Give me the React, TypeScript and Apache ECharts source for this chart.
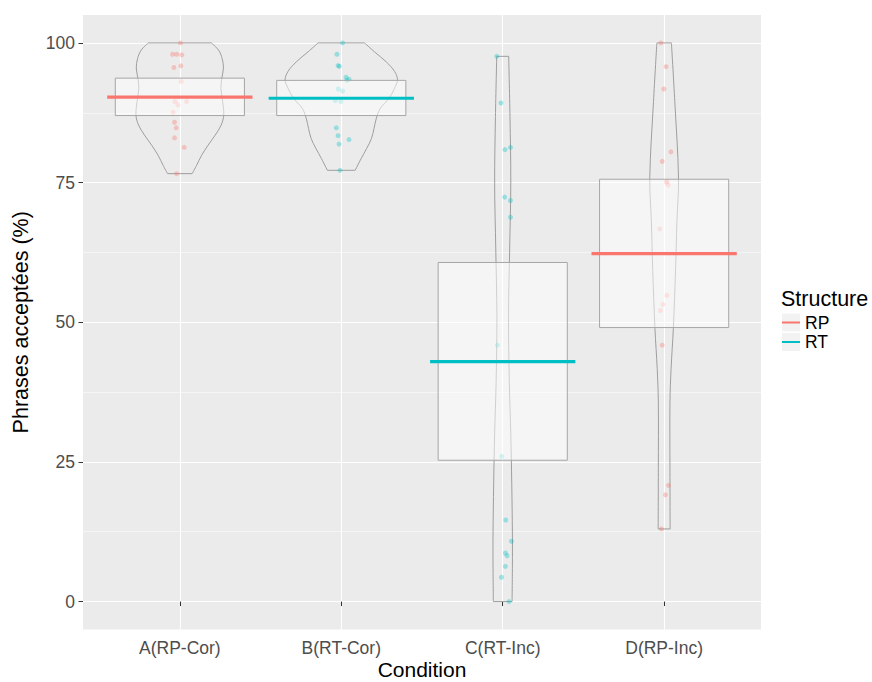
import React, { useEffect, useRef } from "react";
import * as echarts from "echarts";

// ---- data ----
const conditions = ["A(RP-Cor)", "B(RT-Cor)", "C(RT-Inc)", "D(RP-Inc)"];
const structureOf = ["RP", "RT", "RT", "RP"];
const structures = ["RP", "RT"];
const structureColors = ["#F8766D", "#00BFC4"];
const yTicks = [0, 25, 50, 75, 100];
const yMinorTicks = [12.5, 37.5, 62.5, 87.5];

// accepted sentences (%) per participant, with horizontal jitter (category units)
const valuesA = [100, 97.97, 97.97, 97.85, 95.6, 95.9, 93.1, 89.5, 88.9, 89.5, 87.6, 85.8, 84.8, 83.0, 81.3, 76.6];
const jitterA = [0.004, -0.045, -0.02, 0.012, -0.037, 0.006, 0.008, -0.031, -0.012, 0.042, -0.042, -0.033, -0.023, -0.033, 0.027, -0.02];
const valuesB = [100, 97.97, 95.95, 95.8, 93.85, 93.5, 93.3, 91.75, 91.4, 89.7, 89.5, 84.8, 83.4, 82.7, 81.9, 77.2];
const jitterB = [0.008, -0.027, -0.02, -0.012, 0.029, 0.048, 0.035, -0.019, 0.008, -0.037, -0.002, -0.031, -0.02, 0.048, -0.014, -0.008];
const valuesC = [97.6, 89.25, 80.9, 81.3, 72.4, 71.8, 68.8, 45.9, 26.0, 14.6, 10.8, 8.7, 8.2, 6.3, 4.35, 0];
const jitterC = [-0.037, -0.011, 0.014, 0.048, 0.012, 0.048, 0.048, -0.033, -0.006, 0.019, 0.054, 0.017, 0.027, 0.017, -0.008, 0.039];
const valuesD = [100, 95.75, 91.75, 80.5, 78.8, 75.1, 75.1, 74.55, 66.7, 54.8, 53.2, 52.1, 45.9, 20.8, 19.1, 13.0];
const jitterD = [-0.02, 0.012, -0.002, 0.042, -0.012, 0.012, 0.019, 0.025, -0.027, 0.017, -0.008, -0.023, -0.012, 0.027, 0.008, -0.017];

const allValues = [valuesA, valuesB, valuesC, valuesD];
const allJitter = [jitterA, jitterB, jitterC, jitterD];

// summary: mean line and box (low / high)
const means = [90.3, 90.1, 42.95, 62.3];
const boxLow = [87.0, 87.0, 25.3, 49.05];
const boxHigh = [93.7, 93.3, 60.7, 75.6];

// violin density profiles: [value, half width (category units)]
const violinA = [[100, 0.195], [98.7, 0.24], [97.2, 0.262], [95.5, 0.27], [93.7, 0.26], [91.9, 0.254], [89.5, 0.265], [87.1, 0.272], [85.3, 0.256], [83.5, 0.219], [81.7, 0.175], [79.9, 0.135], [78.1, 0.104], [76.6, 0.076]];
const violinB = [[100, 0.144], [98.4, 0.206], [96.6, 0.279], [94.9, 0.33], [93.4, 0.348], [91.9, 0.33], [90.1, 0.296], [88.3, 0.242], [86.5, 0.217], [84.7, 0.203], [82.9, 0.187], [81.1, 0.157], [79.3, 0.123], [77.2, 0.086]];
const violinC = [[97.6, 0.037], [86.8, 0.045], [74.9, 0.05], [63.1, 0.043], [51, 0.036], [39.1, 0.041], [30.1, 0.05], [21.1, 0.056], [12.1, 0.06], [6.4, 0.06], [0, 0.058]];
const violinD = [[100, 0.045], [89.5, 0.066], [75.8, 0.089], [68, 0.079], [59.6, 0.071], [48.9, 0.057], [41.7, 0.043], [35.7, 0.036], [23.8, 0.036], [13, 0.037]];
const violins = [violinA, violinB, violinC, violinD];

const FONT = "'Liberation Sans', Arial, Helvetica, sans-serif";

function colorOf(s: string) {
  return structureColors[structures.indexOf(s)];
}

export default function App() {
  const ref = useRef<HTMLDivElement>(null);
  useEffect(() => {
    if (!ref.current) return;
    const chart = echarts.init(ref.current, null, { renderer: "svg" });

    const violinSeries = {
      type: "custom",
      name: "violin",
      z: 1,
      silent: true,
      data: conditions.map((_, i) => [i + 1, 0]),
      renderItem: (params: any, api: any) => {
        const x = api.value(0);
        const prof = violins[x - 1];
        const bw = api.size([1, 0])[0];
        const c = api.coord([x, 0])[0];
        const left = prof.map(([v, w]) => [c - w * bw, api.coord([x, v])[1]]);
        const right = prof.map(([v, w]) => [c + w * bw, api.coord([x, v])[1]]);
        const st = { fill: "none", stroke: "#9E9E9E", lineWidth: 1 };
        const n = prof.length - 1;
        return {
          type: "group",
          children: [
            { type: "polyline", shape: { points: left, smooth: 0.35 }, style: st },
            { type: "polyline", shape: { points: right, smooth: 0.35 }, style: st },
            { type: "line", shape: { x1: left[0][0], y1: left[0][1], x2: right[0][0], y2: right[0][1] }, style: st },
            { type: "line", shape: { x1: left[n][0], y1: left[n][1], x2: right[n][0], y2: right[n][1] }, style: st },
          ],
        };
      },
    };

    const pointSeries = structures.map((s) => ({
      type: "scatter",
      name: s,
      z: 2,
      symbolSize: 5,
      itemStyle: { color: colorOf(s), opacity: 0.35 },
      data: conditions.flatMap((_, i) =>
        structureOf[i] === s ? allValues[i].map((v, k) => [i + 1 + allJitter[i][k], v]) : []
      ),
    }));

    const boxSeries = {
      type: "custom",
      name: "box",
      z: 3,
      silent: true,
      data: conditions.map((_, i) => [i + 1, boxLow[i], boxHigh[i]]),
      renderItem: (params: any, api: any) => {
        const x = api.value(0);
        const p1 = api.coord([x - 0.4, api.value(2)]);
        const p2 = api.coord([x + 0.4, api.value(1)]);
        return {
          type: "rect",
          shape: { x: p1[0], y: p1[1], width: p2[0] - p1[0], height: p2[1] - p1[1] },
          style: { fill: "rgba(255,255,255,0.5)", stroke: "#A6A6A6", lineWidth: 1 },
        };
      },
    };

    const meanSeries = structures.map((s) => ({
      type: "custom",
      name: s,
      z: 4,
      color: colorOf(s),
      data: conditions.flatMap((_, i) => (structureOf[i] === s ? [[i + 1, means[i]]] : [])),
      renderItem: (params: any, api: any) => {
        const x = api.value(0);
        const p1 = api.coord([x - 0.45, api.value(1)]);
        const p2 = api.coord([x + 0.45, api.value(1)]);
        return {
          type: "line",
          shape: { x1: p1[0], y1: p1[1], x2: p2[0], y2: p2[1] },
          style: { stroke: colorOf(s), lineWidth: 3.2 },
        };
      },
    }));

    const option = {
      animation: false,
      backgroundColor: "#FFFFFF",
      textStyle: { fontFamily: FONT },
      grid: {
        left: 83,
        right: 111,
        top: 15,
        bottom: 52.5,
        show: true,
        backgroundColor: "#EBEBEB",
        borderWidth: 0,
        outerBoundsMode: "none",
        containLabel: false,
      },
      xAxis: {
        type: "value",
        min: 0.4,
        max: 4.6,
        axisLine: { show: false },
        axisTick: { show: true, customValues: [1, 2, 3, 4], length: 4.5, lineStyle: { color: "#333333", width: 1 } },
        axisLabel: {
          customValues: [1, 2, 3, 4],
          formatter: (v: number) => conditions[Math.round(v) - 1],
          fontSize: 17.5,
          color: "#4D4D4D",
          fontFamily: FONT,
          margin: 9.5,
        },
        splitLine: { show: true, lineStyle: { color: "#FFFFFF", width: 1.1 } },
        name: "Condition",
        nameLocation: "middle",
        nameGap: 29,
        nameMoveOverlap: false,
        nameTextStyle: { fontSize: 21, lineHeight: 21, color: "#000000", fontFamily: FONT },
      },
      yAxis: [
        {
          type: "value",
          min: -5,
          max: 105,
          axisLine: { show: false },
          axisTick: { show: true, customValues: yTicks, length: 4.5, lineStyle: { color: "#333333", width: 1 } },
          axisLabel: { customValues: yTicks, fontSize: 17.5, color: "#4D4D4D", fontFamily: FONT, margin: 8 },
          splitLine: { show: true, lineStyle: { color: "#FFFFFF", width: 1.1 } },
          name: "Phrases acceptées (%)",
          nameLocation: "middle",
          nameRotate: 90,
          nameGap: 51,
          nameTextStyle: { fontSize: 21.5, color: "#000000", fontFamily: FONT },
          z: 0,
        },
        {
          type: "value",
          min: -5,
          max: 105,
          axisLine: { show: false },
          axisTick: { show: false, customValues: yMinorTicks },
          axisLabel: { show: false, customValues: yMinorTicks },
          splitLine: { show: true, lineStyle: { color: "#FFFFFF", width: 0.5 } },
          z: 0,
        },
      ],
      legend: {
        orient: "vertical",
        left: 782,
        top: 312.75,
        padding: 0,
        itemWidth: 18,
        itemHeight: 2,
        itemGap: 0,
        icon: "rect",
        selectedMode: false,
        data: structures.map((s) => ({ name: s, itemStyle: { color: colorOf(s), opacity: 1 } })),
        textStyle: { fontSize: 17.5, lineHeight: 19.5, color: "#000000", fontFamily: FONT },
      },
      graphic: [
        {
          type: "text",
          left: 781,
          top: 288,
          style: { text: "Structure", fontSize: 21.5, fill: "#000000", fontFamily: FONT },
        },
        { type: "rect", left: 782, top: 313.5, shape: { width: 18, height: 18 }, style: { fill: "#F2F2F2" }, z: -1 },
        { type: "rect", left: 782, top: 333, shape: { width: 18, height: 18 }, style: { fill: "#F2F2F2" }, z: -1 },
      ],
      series: [violinSeries, ...pointSeries, boxSeries, ...meanSeries],
    };

    chart.setOption(option as any);
    return () => chart.dispose();
  }, []);

  return (
    <div
      ref={ref}
      style={{ position: "fixed", left: 0, top: 0, width: 872, height: 682 }}
    />
  );
}
